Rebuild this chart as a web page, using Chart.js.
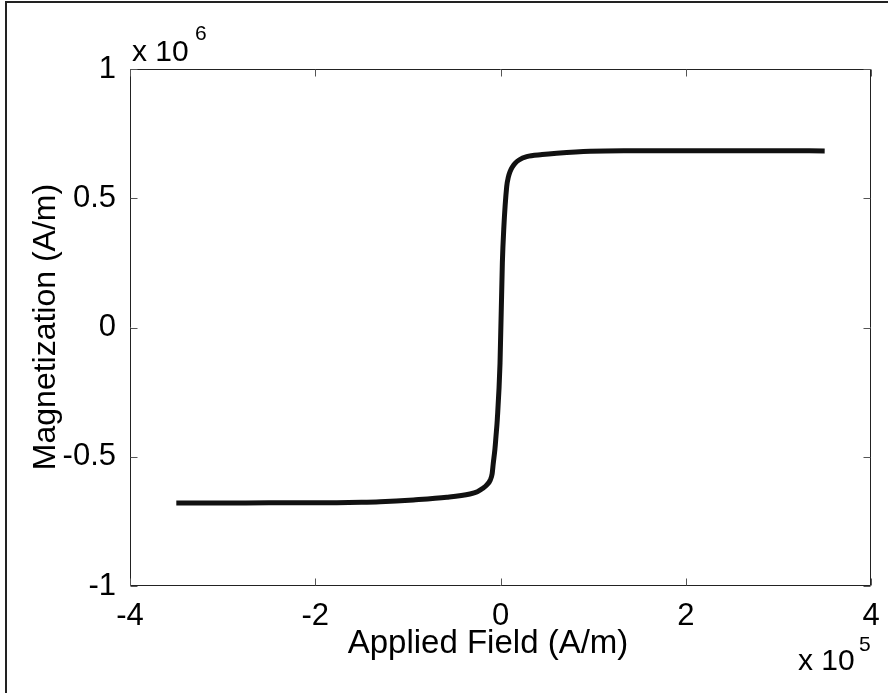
<!DOCTYPE html>
<html>
<head>
<meta charset="utf-8">
<script src="https://cdn.jsdelivr.net/npm/chart.js@4/dist/chart.umd.min.js"></script>
<style>
  html, body { margin: 0; padding: 0; background: #fff; }
  canvas { display: block; }
</style>
</head>
<body>
<canvas id="c" width="888" height="693"></canvas>
<script>
// Applied field H (units of 1e5 A/m) and magnetization M (units of 1e6 A/m)
const fieldH = [-3.5, -3, -2.5, -2, -1.5, -1.3, -0.94, -0.58, -0.33, -0.25, -0.19, -0.15, -0.11, -0.09, -0.078, -0.06, -0.049, -0.035, -0.005, 0.02, 0.035, 0.067, 0.085, 0.103, 0.13, 0.157, 0.2, 0.283, 0.45, 0.607, 0.967, 1.33, 2, 2.5, 3, 3.5];
const magM   = [-0.679, -0.679, -0.678, -0.678, -0.676, -0.674, -0.667, -0.657, -0.644, -0.635, -0.622, -0.610, -0.590, -0.565, -0.525, -0.47, -0.422, -0.358, -0.137, 0.25, 0.38, 0.545, 0.582, 0.603, 0.622, 0.635, 0.648, 0.661, 0.669, 0.674, 0.682, 0.684, 0.684, 0.684, 0.684, 0.683];
const xTicks = [-4, -2, 0, 2, 4];
const yTicks = [-1, -0.5, 0, 0.5, 1];
const xTitle = 'Applied Field (A/m)';
const yTitle = 'Magnetization (A/m)';
const xExp = '5';
const yExp = '6';

const FONT = '"Liberation Sans", Arial, Helvetica, sans-serif';

const points = fieldH.map((h, i) => ({ x: h, y: magM[i] }));

const decor = {
  id: 'decor',
  afterDraw(chart) {
    const ctx = chart.ctx;
    const a = chart.chartArea;
    const xs = chart.scales.x, ys = chart.scales.y;
    ctx.save();
    // page frame (left/top)
    ctx.strokeStyle = '#222';
    ctx.lineWidth = 2;
    ctx.beginPath();
    ctx.moveTo(6, 693); ctx.lineTo(6, 2); ctx.lineTo(888, 2);
    ctx.stroke();
    // axes box
    ctx.lineWidth = 1;
    ctx.strokeStyle = '#222';
    const L = Math.round(a.left) + 0.5, R = Math.round(a.right) - 0.5;
    const T = Math.round(a.top) + 0.5, B = Math.round(a.bottom) - 0.5;
    ctx.beginPath();
    ctx.moveTo(L, T); ctx.lineTo(R, T); ctx.lineTo(R, B); ctx.lineTo(L, B); ctx.closePath();
    ctx.stroke();
    // inner ticks
    ctx.strokeStyle = '#555';
    ctx.beginPath();
    xTicks.forEach(v => {
      const px = Math.round(xs.getPixelForValue(v)) + 0.5;
      ctx.moveTo(px, B); ctx.lineTo(px, B - 7);
      ctx.moveTo(px, T); ctx.lineTo(px, T + 7);
    });
    yTicks.forEach(v => {
      const py = Math.round(ys.getPixelForValue(v)) + 0.5;
      ctx.moveTo(L, py); ctx.lineTo(L + 7, py);
      ctx.moveTo(R, py); ctx.lineTo(R - 7, py);
    });
    ctx.stroke();
    // titles
    ctx.fillStyle = '#000';
    ctx.font = '33px ' + FONT;
    ctx.textAlign = 'center';
    ctx.textBaseline = 'alphabetic';
    ctx.fillText(xTitle, 488, 653);
    ctx.save();
    ctx.font = '32px ' + FONT;
    ctx.translate(55, 327);
    ctx.rotate(-Math.PI / 2);
    ctx.fillText(yTitle, 0, 0);
    ctx.restore();
    // multipliers
    ctx.textAlign = 'left';
    ctx.font = '30px ' + FONT;
    ctx.fillText('x 10', a.left + 2, 61);
    ctx.fillText('x 10', 798, 670);
    ctx.font = '21px ' + FONT;
    ctx.fillText(yExp, a.left + 65, 40);
    ctx.fillText(xExp, 859, 651);
    ctx.restore();
  }
};

new Chart(document.getElementById('c'), {
  type: 'scatter',
  data: {
    datasets: [{
      data: points,
      showLine: true,
      borderColor: '#111',
      borderWidth: 5,
      pointRadius: 0,
      cubicInterpolationMode: 'monotone',
      fill: false
    }]
  },
  options: {
    responsive: false,
    animation: false,
    devicePixelRatio: 1,
    layout: { padding: { left: 0, top: 69, right: 17, bottom: 0 } },
    plugins: { legend: { display: false }, tooltip: { enabled: false } },
    scales: {
      x: {
        type: 'linear', min: -4, max: 4,
        afterBuildTicks: s => { s.ticks = xTicks.map(v => ({ value: v })); },
        afterFit: s => { s.height = 107; },
        grid: { display: false },
        border: { display: false },
        ticks: { color: '#000', font: { family: FONT, size: 31 }, padding: 4, maxRotation: 0, autoSkip: false,
                 callback: v => String(v) }
      },
      y: {
        type: 'linear', min: -1, max: 1,
        afterBuildTicks: s => { s.ticks = yTicks.map(v => ({ value: v })); },
        afterFit: s => { s.width = 130; },
        grid: { display: false },
        border: { display: false },
        ticks: { color: '#000', font: { family: FONT, size: 31 }, padding: 6, autoSkip: false,
                 callback: v => String(v) }
      }
    }
  },
  plugins: [decor]
});
</script>
</body>
</html>
